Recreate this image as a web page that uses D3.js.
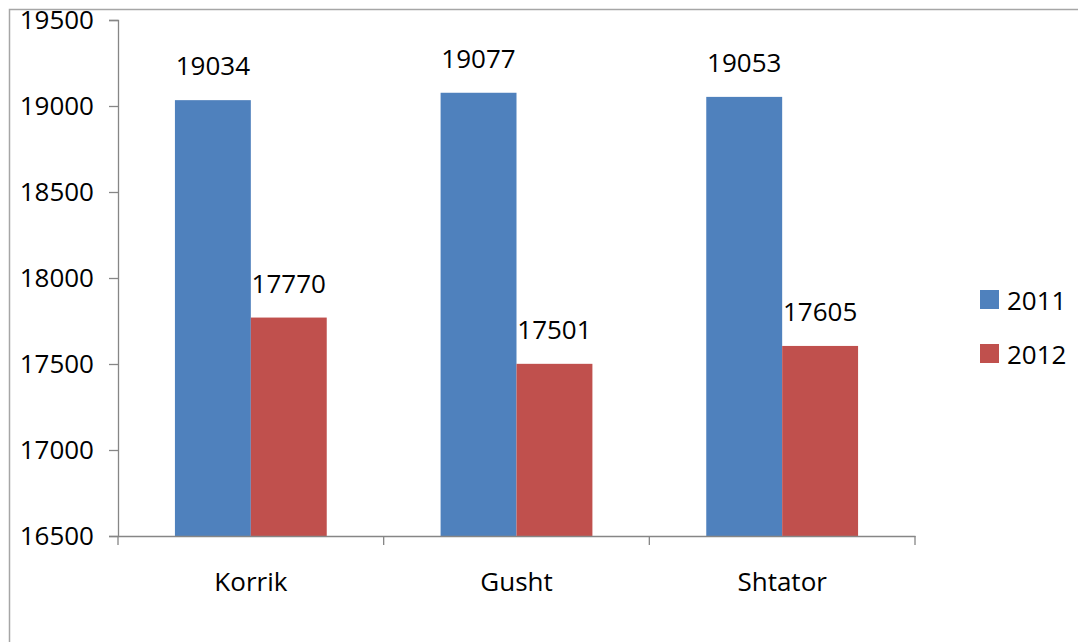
<!DOCTYPE html>
<html>
<head>
<meta charset="utf-8">
<script src="https://cdn.jsdelivr.net/npm/d3@7"></script>
<style>
  body { margin: 0; background: #fff; }
  svg text { font-family: "Open Sans", sans-serif; fill: #000; }
</style>
</head>
<body>
<div id="chart"></div>
<script>
// chart data
var categories = ["Korrik", "Gusht", "Shtator"];
var seriesNames = ["2011", "2012"];
var values2011 = [19034, 19077, 19053];
var values2012 = [17770, 17501, 17605];
var yTicks = [16500, 17000, 17500, 18000, 18500, 19000, 19500];
var colours = ["#4F81BD", "#C0504D"];

var width = 1078, height = 642,
    margin = { top: 20, right: 163, bottom: 106, left: 118 },
    fontSize = "26px";

var svg = d3.select("#chart").append("svg")
    .attr("width", width)
    .attr("height", height);

// outer frame (only left and top edges show in the picture)
svg.append("path")
    .attr("d", "M9.5,642 V9.5 H1078")
    .attr("fill", "none")
    .attr("stroke", "#a6a6a6")
    .attr("stroke-width", 1.5);

var x0 = d3.scaleBand()
    .domain(categories)
    .range([margin.left, width - margin.right])
    .padding(0);

var x1 = d3.scaleBand()
    .domain(seriesNames)
    .range([0, x0.bandwidth()])
    .paddingInner(0)
    .paddingOuter(0.75);

var y = d3.scaleLinear()
    .domain([16500, 19500])
    .range([height - margin.bottom, margin.top]);

var rows = categories.map((c, i) => ({
  cat: c,
  vals: [values2011[i], values2012[i]]
}));

// bars
var groups = svg.selectAll("g.grp")
    .data(rows)
    .enter().append("g")
    .attr("class", "grp")
    .attr("transform", d => `translate(${x0(d.cat)},0)`);

groups.selectAll("rect")
    .data(d => d.vals.map((v, j) => ({ s: seriesNames[j], v: v, j: j })))
    .enter().append("rect")
    .attr("x", d => x1(d.s))
    .attr("width", x1.bandwidth())
    .attr("y", d => y(d.v))
    .attr("height", d => y(16500) - y(d.v))
    .style("fill", d => colours[d.j]);

groups.selectAll("text.val")
    .data(d => d.vals.map((v, j) => ({ s: seriesNames[j], v: v })))
    .enter().append("text")
    .attr("class", "val")
    .attr("x", d => x1(d.s) + x1.bandwidth() / 2)
    .attr("y", d => y(d.v) - 25)
    .style("text-anchor", "middle")
    .style("font-size", fontSize)
    .text(d => d.v);

// y axis
var yAxis = d3.axisLeft(y)
    .tickValues(yTicks)
    .tickSize(9)
    .tickPadding(15)
    .tickFormat(d => d);

var gy = svg.append("g")
    .attr("transform", `translate(${margin.left},0)`)
    .call(yAxis);
gy.select(".domain").attr("stroke", "#868686").attr("stroke-width", 1.3);
gy.selectAll(".tick line").attr("stroke", "#868686").attr("stroke-width", 1.3);
gy.selectAll(".tick text").style("font-size", fontSize).attr("font-family", null);

// x axis
var xAxis = d3.axisBottom(x0)
    .tickSize(0)
    .tickPadding(37);

var gx = svg.append("g")
    .attr("transform", `translate(0,${y(16500)})`)
    .call(xAxis);
gx.select(".domain").attr("stroke", "#868686").attr("stroke-width", 1.3);
gx.selectAll(".tick text").style("font-size", fontSize).attr("font-family", null);

// category separators
var seps = categories.map(c => x0(c)).concat([x0.range()[1]]);
gx.selectAll("line.sep")
    .data(seps)
    .enter().append("line")
    .attr("class", "sep")
    .attr("x1", d => d).attr("x2", d => d)
    .attr("y1", 0).attr("y2", 9)
    .attr("stroke", "#868686")
    .attr("stroke-width", 1.3);

// legend
var legend = svg.selectAll("g.leg")
    .data(seriesNames)
    .enter().append("g")
    .attr("class", "leg")
    .attr("transform", (d, i) => `translate(980,${290 + i * 54})`);

legend.append("rect")
    .attr("width", 19)
    .attr("height", 19)
    .style("fill", (d, i) => colours[i]);

legend.append("text")
    .attr("x", 27)
    .attr("y", 20)
    .style("font-size", fontSize)
    .text(d => d);
</script>
</body>
</html>
